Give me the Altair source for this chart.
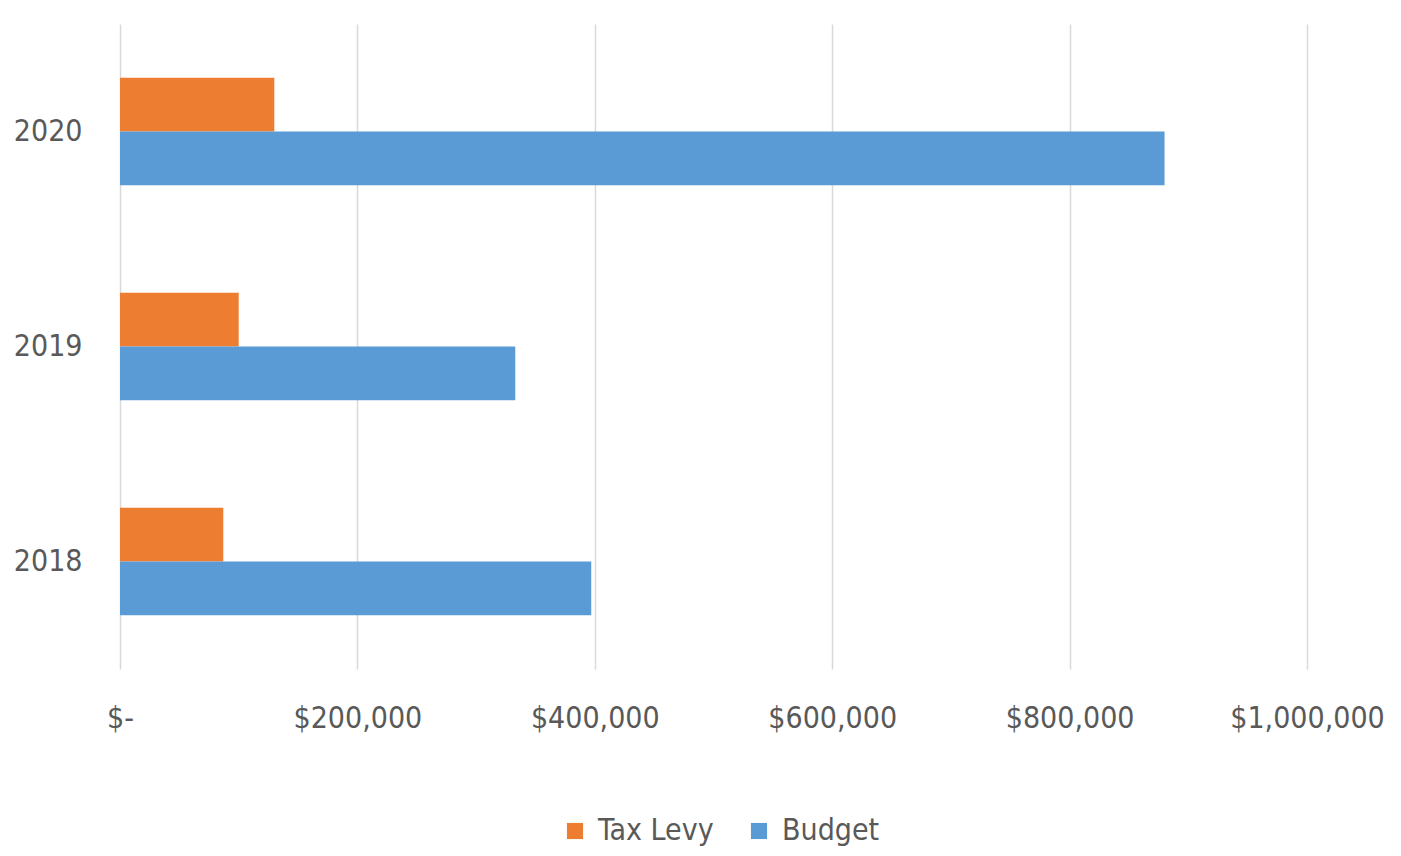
import altair as alt
import pandas as pd

years = ["2020", "2019", "2018"]
series = ["Tax Levy", "Budget"]
tax_levy = [130000, 100000, 87000]
budget = [880000, 333000, 397000]
x_ticks = [0, 200000, 400000, 600000, 800000, 1000000]

rows = []
for i, y in enumerate(years):
    rows.append({"Year": y, "Series": "Tax Levy", "Value": tax_levy[i]})
    rows.append({"Year": y, "Series": "Budget", "Value": budget[i]})
df = pd.DataFrame(rows)

FONT = "Liberation Sans Narrow, DejaVu Sans Condensed, Liberation Sans, sans-serif"

chart = alt.Chart(df).mark_bar().encode(
    y=alt.Y("Year:N", sort=years, title=None,
            scale=alt.Scale(paddingInner=0.5, paddingOuter=0.25),
            axis=alt.Axis(labelFontSize=30, labelFont=FONT, labelColor="#595959",
                          labelPadding=38, ticks=False, domain=False, grid=False)),
    yOffset=alt.YOffset("Series:N", sort=series),
    x=alt.X("Value:Q", title=None,
            scale=alt.Scale(domain=[0, 1000000], nice=False),
            axis=alt.Axis(values=x_ticks, labelFontSize=30, labelFont=FONT,
                          labelColor="#595959", labelPadding=34, ticks=False,
                          labelFlush=False, labelOverlap=False,
                          domain=False, grid=True, gridColor="#D9D9D9", gridWidth=1.5,
                          labelExpr="datum.value == 0 ? '$-' : '$' + format(datum.value, ',')")),
    color=alt.Color("Series:N", sort=series,
                    scale=alt.Scale(domain=series, range=["#ED7D31", "#5B9BD5"]),
                    legend=alt.Legend(title=None, orient="none", direction="horizontal",
                                      legendX=440, legendY=792, symbolType="square",
                                      symbolSize=260, symbolStrokeWidth=0,
                                      labelFontSize=30, labelFont=FONT,
                                      labelColor="#595959", columnPadding=30,
                                      labelOffset=8)),
).properties(
    width=1187, height=645,
    autosize=alt.AutoSizeParams(type="none"),
    padding={"left": 120, "top": 24, "right": 90, "bottom": 180},
).configure(background="white").configure_view(stroke=None, strokeWidth=0)

chart.save("out.html", embed_options={"renderer": "svg", "actions": False})
